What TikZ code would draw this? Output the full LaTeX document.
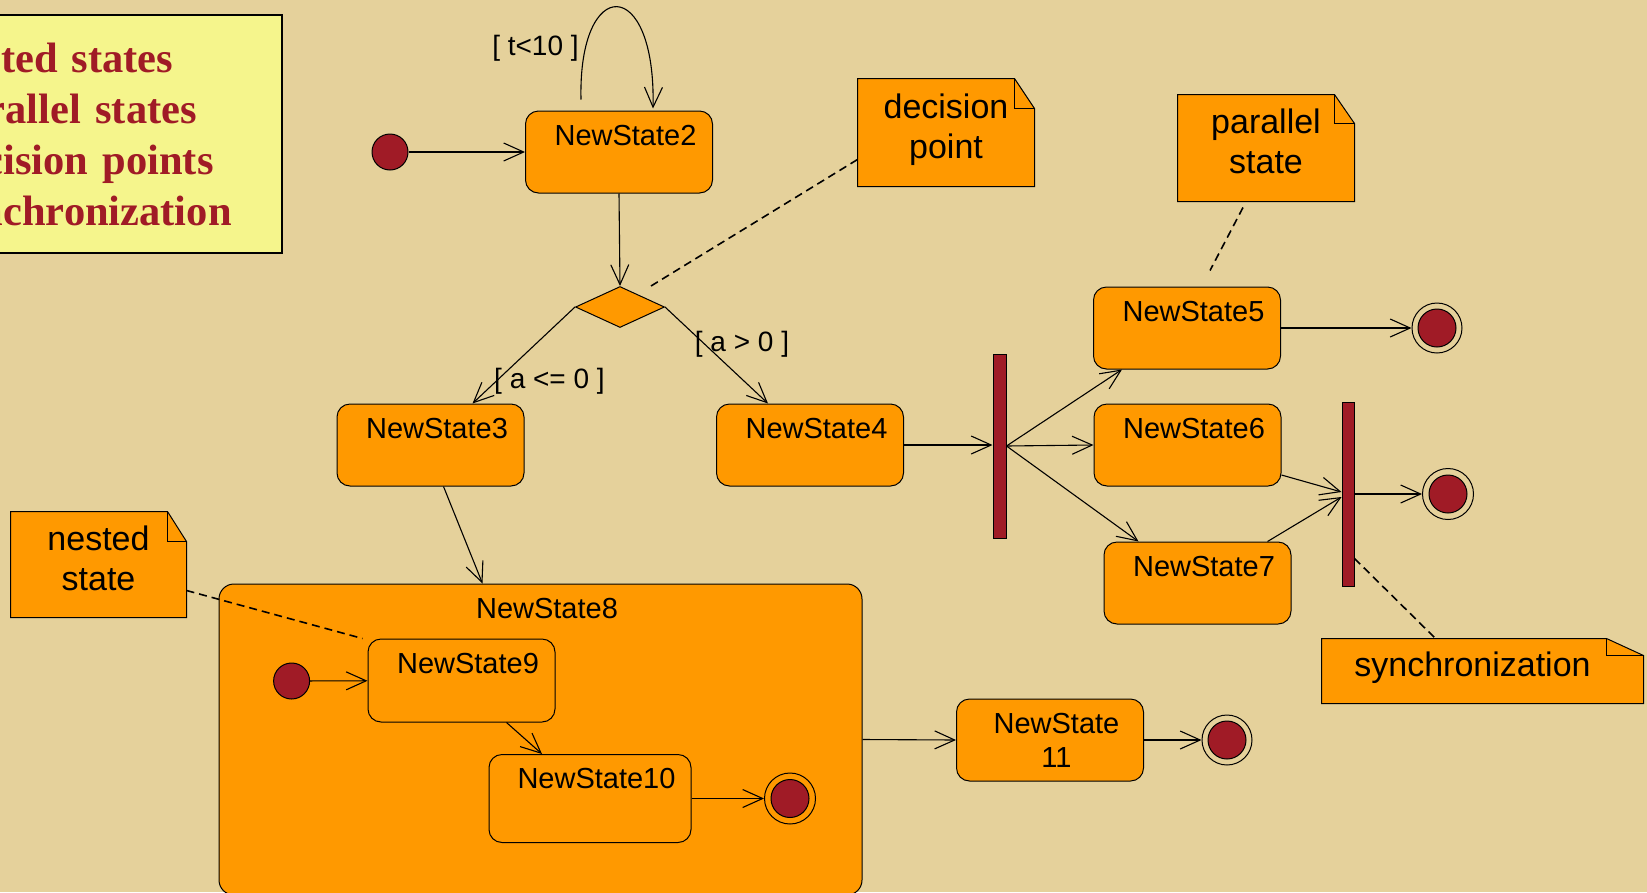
\documentclass[tikz,border=0pt]{standalone}
\usepackage{fontspec}
\setmainfont{Liberation Sans}
\newfontfamily\bannerfont{Liberation Serif}
\usepackage{tikz}
\usetikzlibrary{shapes.geometric, arrows.meta}
\definecolor{pagetan}{RGB}{229,209,155}
\definecolor{stateorange}{RGB}{255,153,0}
\definecolor{darkred}{RGB}{160,27,38}
\definecolor{paleyellow}{RGB}{245,245,140}
\newcommand{\statefont}{\fontsize{29}{34}\selectfont}
\newcommand{\notefont}{\fontsize{34}{40}\selectfont}
\newcommand{\guardfont}{\fontsize{28}{33}\selectfont}

\begin{document}
\begin{tikzpicture}[x=1pt, y=-1pt, line width=1pt,
    state/.style={rectangle, rounded corners=13pt, draw, fill=stateorange, minimum width=187pt, minimum height=82pt, inner xsep=4pt, inner ysep=12pt, text height=22pt, text depth=36pt, align=center, font=\statefont, execute at begin node={\hspace*{13pt}}},
    note/.style={rectangle, fill=stateorange, inner sep=0pt, text depth=13pt, align=center, font=\notefont},
    banner/.style={rectangle, draw, line width=2pt, fill=paleyellow, minimum width=352pt, minimum height=238pt, text width=328pt, inner xsep=12pt, inner ysep=0pt, align=left, text height=29pt, text depth=153pt, text=darkred, font=\bannerfont\bfseries\fontsize{42.5}{51}\selectfont},
    startdot/.style={circle, draw, fill=darkred, inner sep=0pt, minimum size=36pt},
    enddot/.style={circle, draw, inner sep=0pt, minimum size=51pt, path picture={\fill[darkred, draw=black] (path picture bounding box.center) circle (19pt);}},
    bar/.style={rectangle, draw, fill=darkred, inner sep=0pt, minimum width=13pt, minimum height=184pt},
    choice/.style={diamond, draw, fill=stateorange, inner sep=0pt, minimum width=89pt, minimum height=41pt},
    trans/.style={-{Straight Barb[length=20pt, width=18pt]}, line width=1.1pt},
    noteline/.style={dash pattern=on 8pt off 5pt, line width=1.6pt},
    guard/.style={anchor=base, inner sep=0pt, font=\guardfont}
]
\useasboundingbox (0,0) rectangle (1647,892);
\clip (0,0) rectangle (1647,892);
\fill[pagetan] (0,0) rectangle (1647,892);

% topic list, runs off the left edge
\node[banner] (topics) at (106,134) {nested states\\parallel states\\decision points\\synchronization};

% top level
\node[startdot] (start) at (390,152) {};
\node[state] (s2) at (619,152) {NewState2};
\node[choice] (dec) at (620,307) {};
\node[state] (s3) at (430.5,445) {NewState3};
\node[state] (s4) at (810,445) {NewState4};
\node[bar] (fork) at (999.5,446) {};
\node[state] (s5) at (1187,328) {NewState5};
\node[state] (s6) at (1187.5,445) {NewState6};
\node[state] (s7) at (1197.5,583) {NewState7};
\node[bar, minimum width=12pt] (join) at (1348,494) {};
\node[enddot, minimum size=50pt] (end5) at (1437,328) {};
\node[enddot] (endjoin) at (1448,494) {};

% composite state
\node[state, rounded corners=15pt, minimum width=643pt, minimum height=311pt, text depth=265pt] (s8) at (540.5,739.5) {NewState8};
\node[startdot] (start8) at (291.6,681) {};
\node[state, minimum height=83pt] (s9) at (461.5,680.5) {NewState9};
\node[state, minimum width=202pt, minimum height=88pt, text depth=42pt] (s10) at (590,798.5) {NewState10};
\node[enddot] (end8) at (790,798.5) {};
\node[state, text height=56pt, text depth=2pt, execute at begin node={}] (s11) at (1050,740) {NewState\\11};
\node[enddot, minimum size=50pt] (end11) at (1227,740) {};

% notes
\node[note, minimum width=176pt, minimum height=107pt] (decnote) at (946,132.5) {decision\\point};
\node[note, minimum width=176pt, minimum height=106pt] (parnote) at (1266,148) {parallel\\state};
\node[note, minimum width=175pt, minimum height=105pt] (nestnote) at (98.5,564.5) {nested\\state};
\node[note, minimum width=321pt, minimum height=64pt] (syncnote) at (1482.5,671) {synchronization\hspace*{20pt}};
\foreach \n/\fx/\fy in {decnote/20/30, parnote/20/29, nestnote/19/30, syncnote/37/17}{
  \fill[pagetan] ([xshift=-\fx pt]\n.north east) -- ([xshift=1pt, yshift=1pt]\n.north east) -- ([yshift=-\fy pt]\n.north east) -- cycle;
  \draw ([xshift=-\fx pt]\n.north east) -- ([yshift=-\fy pt]\n.north east) -- (\n.south east) -- (\n.south west) -- (\n.north west) -- cycle;
  \draw ([xshift=-\fx pt]\n.north east) |- ([yshift=-\fy pt]\n.north east);
}

% transitions
\draw[trans] (start) -- (s2);
\draw[trans] ([xshift=-38pt, yshift=11pt]s2.north) .. controls +(-3,-125) and +(3,-134) .. ([xshift=34pt, yshift=2pt]s2.north);
\node[guard] (loopguard) at (535.5,55) {[ t<10 ]};
\draw[trans] (s2.south) -- (dec.north);
\draw[trans] (dec.west) -- ([xshift=42pt]s3.north);
\draw[trans] (dec.east) -- ([xshift=-42pt]s4.north);
\node[guard] (leftguard) at (549.5,388) {[ a <= 0 ]};
\node[guard] (rightguard) at (742,351) {[ a > 0 ]};
\draw[trans] ([xshift=13pt]s3.south) -- ([xshift=-58pt]s8.north);
\draw[trans] (s4.east) -- (s4.east -| fork.west);
\draw[trans] (fork.east) -- ([xshift=-65pt]s5.south);
\draw[trans] (fork.east) -- (s6.west);
\draw[trans] (fork.east) -- ([xshift=-59pt]s7.north);
\draw[trans] ([yshift=-30pt]s6.east) -- ([yshift=2pt]join.west);
\draw[trans] ([xshift=70pt]s7.north) -- ([yshift=-3pt]join.west);
\draw[trans] (s5) -- (end5);
\draw[trans] (join) -- (endjoin);
\draw[trans] (start8) -- (s9);
\draw[trans] ([xshift=45pt]s9.south) -- ([xshift=-48pt]s10.north);
\draw[trans] (s10) -- (end8);
\draw[trans] (s8.east) -- (s11.west);
\draw[trans] (s11) -- (end11);

% note anchors
\draw[noteline] ([xshift=31pt]dec.north) -- ([yshift=-27pt]decnote.west);
\draw[noteline] ([xshift=-23pt, yshift=-6pt]parnote.south) -- ([xshift=23pt, yshift=16pt]s5.north);
\draw[noteline] ([yshift=28pt]join.south east) -- ([xshift=-47pt]syncnote.north);
\draw[noteline] ([yshift=-26pt]nestnote.east) -- ([xshift=-5pt]s9.north west);

\end{tikzpicture}
\end{document}
